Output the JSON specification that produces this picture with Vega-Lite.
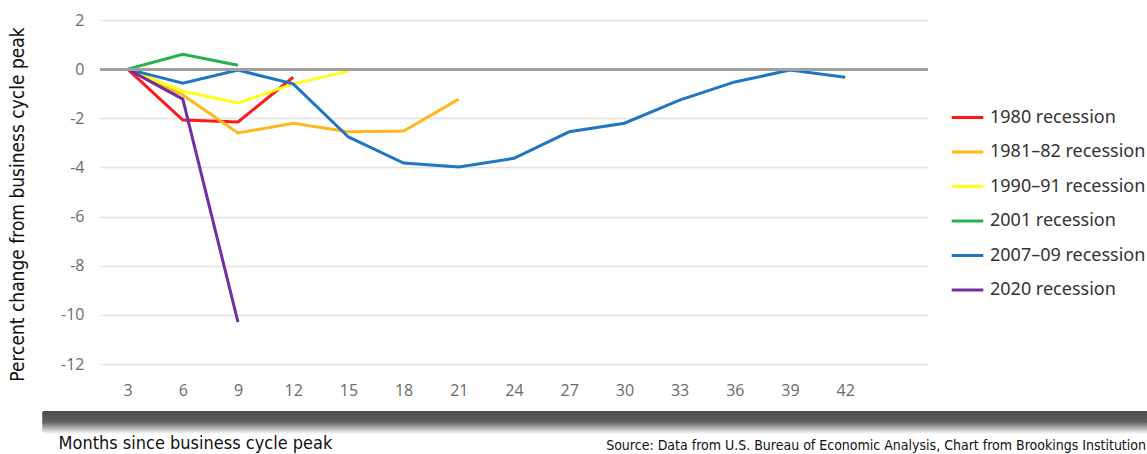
{
  "$schema": "https://vega.github.io/schema/vega-lite/v6.json",
  "width": 828,
  "height": 344,
  "autosize": {"type": "none"},
  "padding": {"left": 100, "top": 20, "right": 219, "bottom": 90},
  "background": "white",
  "title": {
    "text": "Source: Data from U.S. Bureau of Economic Analysis, Chart from Brookings Institution",
    "orient": "bottom",
    "anchor": "end",
    "frame": "group",
    "dx": 218,
    "dy": -17,
    "font": "DejaVu Sans Condensed, Roboto Condensed, Liberation Sans Narrow, sans-serif",
    "fontSize": 14,
    "fontWeight": "normal",
    "color": "#111"
  },
  "config": {
    "view": {"stroke": null},
    "axis": {"domain": false, "ticks": false}
  },
  "data": {
    "values": [
      {"series": "1980 recession", "month": 3, "value": 0},
      {"series": "1980 recession", "month": 6, "value": -2.07},
      {"series": "1980 recession", "month": 9, "value": -2.15},
      {"series": "1980 recession", "month": 12, "value": -0.33},
      {"series": "1981–82 recession", "month": 3, "value": 0},
      {"series": "1981–82 recession", "month": 6, "value": -1.05},
      {"series": "1981–82 recession", "month": 9, "value": -2.6},
      {"series": "1981–82 recession", "month": 12, "value": -2.2},
      {"series": "1981–82 recession", "month": 15, "value": -2.55},
      {"series": "1981–82 recession", "month": 18, "value": -2.52},
      {"series": "1981–82 recession", "month": 21, "value": -1.22},
      {"series": "1990–91 recession", "month": 3, "value": 0},
      {"series": "1990–91 recession", "month": 6, "value": -0.9},
      {"series": "1990–91 recession", "month": 9, "value": -1.38},
      {"series": "1990–91 recession", "month": 12, "value": -0.6},
      {"series": "1990–91 recession", "month": 15, "value": -0.08},
      {"series": "2001 recession", "month": 3, "value": 0},
      {"series": "2001 recession", "month": 6, "value": 0.6},
      {"series": "2001 recession", "month": 9, "value": 0.16},
      {"series": "2007–09 recession", "month": 3, "value": 0},
      {"series": "2007–09 recession", "month": 6, "value": -0.57},
      {"series": "2007–09 recession", "month": 9, "value": -0.04},
      {"series": "2007–09 recession", "month": 12, "value": -0.6},
      {"series": "2007–09 recession", "month": 15, "value": -2.76},
      {"series": "2007–09 recession", "month": 18, "value": -3.82},
      {"series": "2007–09 recession", "month": 21, "value": -3.98},
      {"series": "2007–09 recession", "month": 24, "value": -3.63},
      {"series": "2007–09 recession", "month": 27, "value": -2.55},
      {"series": "2007–09 recession", "month": 30, "value": -2.2},
      {"series": "2007–09 recession", "month": 33, "value": -1.26},
      {"series": "2007–09 recession", "month": 36, "value": -0.52},
      {"series": "2007–09 recession", "month": 39, "value": -0.04},
      {"series": "2007–09 recession", "month": 42, "value": -0.33},
      {"series": "2020 recession", "month": 3, "value": 0},
      {"series": "2020 recession", "month": 6, "value": -1.22},
      {"series": "2020 recession", "month": 9, "value": -10.3}
    ]
  },
  "layer": [
    {
      "mark": {
        "type": "line",
        "strokeWidth": 3,
        "clip": false
      },
      "encoding": {
        "x": {
          "field": "month",
          "type": "quantitative",
          "scale": {"domain": [1.5, 46.5], "nice": false, "zero": false},
          "axis": {
            "values": [3, 6, 9, 12, 15, 18, 21, 24, 27, 30, 33, 36, 39, 42],
            "grid": false,
            "labelFont": "Open Sans, sans-serif",
            "labelFontSize": 16,
            "labelColor": "#6a6a6a",
            "labelPadding": 18,
            "title": "Months since business cycle peak",
            "titleFont": "DejaVu Sans Condensed, Roboto Condensed, Liberation Sans Narrow, sans-serif",
            "titleFontSize": 18,
            "titleFontWeight": "normal",
            "titleColor": "#111",
            "titleAnchor": "start",
            "titleAlign": "left",
            "titleX": -42,
            "titleY": 84,
            "titleBaseline": "alphabetic"
          }
        },
        "y": {
          "field": "value",
          "type": "quantitative",
          "scale": {"domain": [-12, 2], "nice": false},
          "axis": {
            "values": [-12, -10, -8, -6, -4, -2, 0, 2],
            "labelExpr": "replace(datum.label, '−', '-')",
            "grid": true,
            "gridColor": "#e2e2e2",
            "gridWidth": 1.5,
            "labelFont": "Open Sans, sans-serif",
            "labelFontSize": 16,
            "labelColor": "#6a6a6a",
            "labelPadding": 16,
            "title": "Percent change from business cycle peak",
            "titleFont": "DejaVu Sans Condensed, Roboto Condensed, Liberation Sans Narrow, sans-serif",
            "titleFontSize": 19,
            "titleFontWeight": "normal",
            "titleColor": "#111",
            "titleX": -83,
            "titleY": 184,
            "titleBaseline": "middle"
          }
        },
        "color": {
          "field": "series",
          "type": "nominal",
          "scale": {
            "domain": ["1980 recession", "1981–82 recession", "1990–91 recession", "2001 recession", "2007–09 recession", "2020 recession"],
            "range": ["#ff1a1a", "#ffb81c", "#ffff1a", "#23b14d", "#1f77c4", "#7030a0"]
          },
          "legend": {
            "orient": "none",
            "legendX": 850,
            "legendY": 80,
            "title": null,
            "symbolType": "stroke",
            "symbolSize": 1000,
            "symbolStrokeWidth": 3,
            "labelFont": "Noto Sans, sans-serif",
            "labelFontSize": 18,
            "labelColor": "#333",
            "labelOffset": 5,
            "rowPadding": 7.5
          }
        }
      }
    },
    {
      "mark": {"type": "rule", "color": "#a0a0a0", "strokeWidth": 2.5},
      "encoding": {
        "y": {"datum": 0}
      }
    },
    {
      "mark": {
        "type": "rect",
        "clip": false,
        "color": {
          "gradient": "linear",
          "x1": 0, "y1": 0, "x2": 0, "y2": 1,
          "stops": [
            {"offset": 0, "color": "#4f4f4f"},
            {"offset": 0.45, "color": "#5e5e5e"},
            {"offset": 1, "color": "#ffffff"}
          ]
        }
      },
      "encoding": {
        "x": {"datum": -1.6},
        "x2": {"datum": 58.5},
        "y": {"datum": -13.94},
        "y2": {"datum": -14.85}
      }
    }
  ]
}
